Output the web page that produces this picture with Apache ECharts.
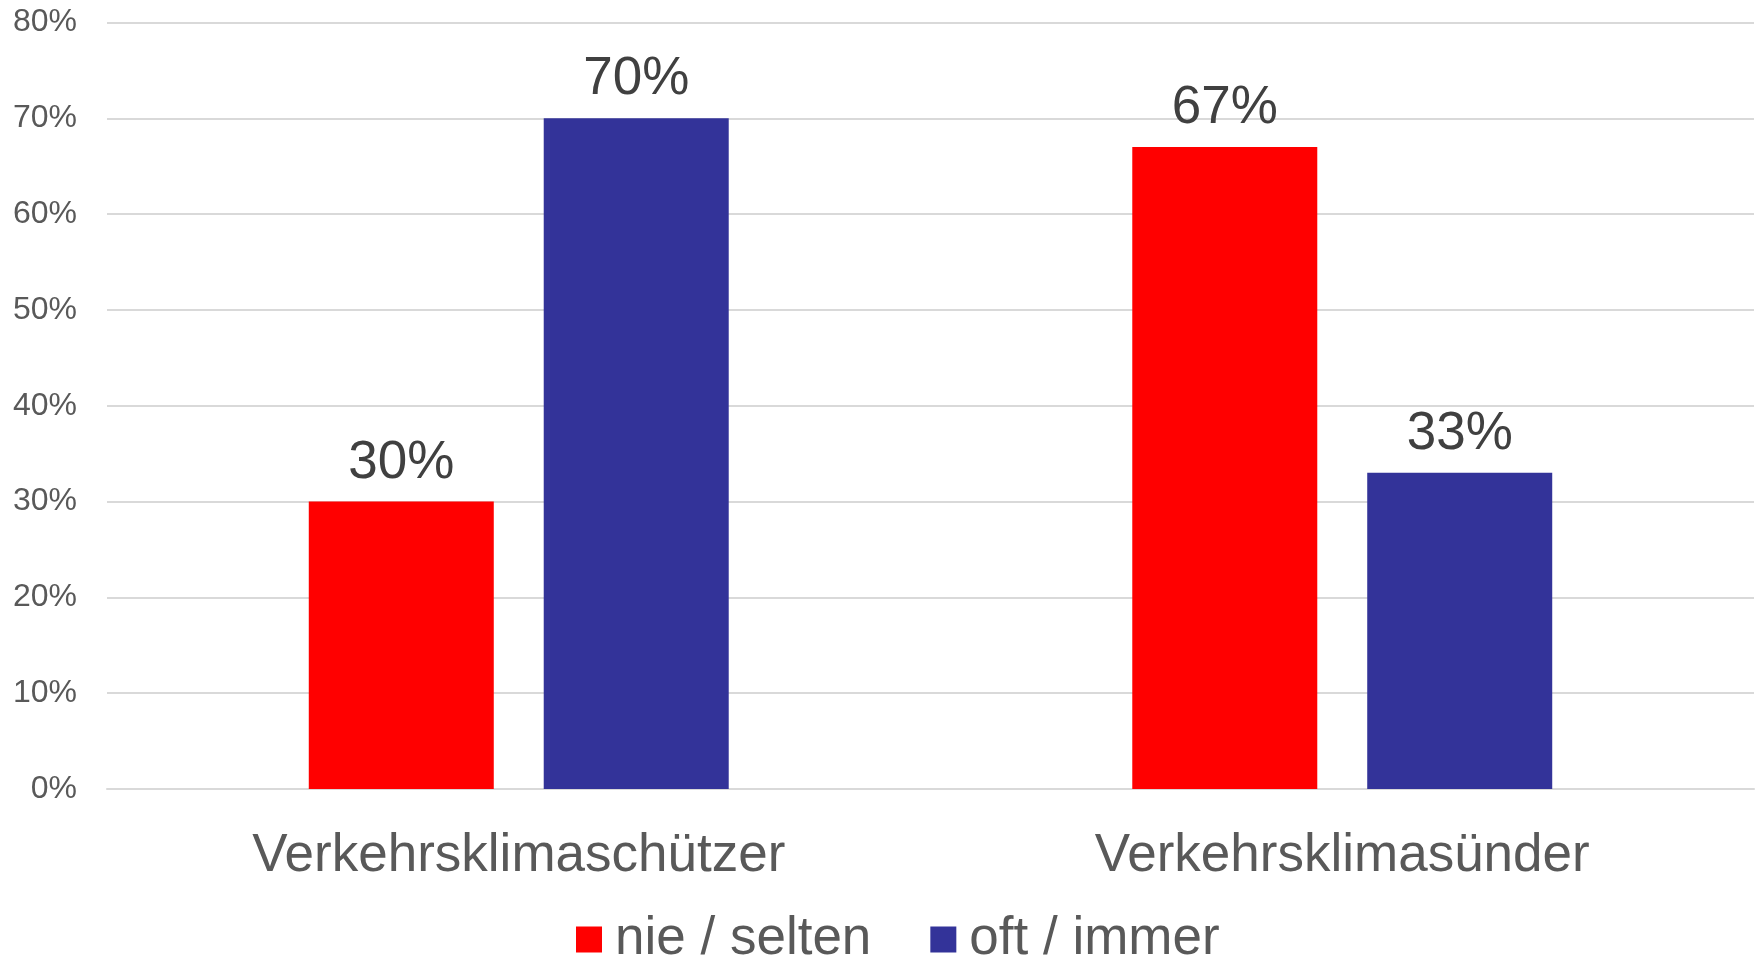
<!DOCTYPE html>
<html lang="de">
<head>
    <meta charset="UTF-8">
    <title>Verkehrsklima</title>
    <script src="https://cdn.jsdelivr.net/npm/echarts@6/dist/echarts.min.js"></script>
    <style>
        html, body { margin: 0; padding: 0; background: #fff; }
        #chart { width: 1760px; height: 956px; }
    </style>
</head>
<body>
<div id="chart"></div>
<script>
    // Daten
    var categories = ['Verkehrsklimaschützer', 'Verkehrsklimasünder'];
    var seriesNames = ['nie / selten', 'oft / immer'];
    var nieSelten = [30, 67];
    var oftImmer = [70, 33];
    var yTicks = [0, 10, 20, 30, 40, 50, 60, 70, 80];

    var font = 'Liberation Sans, Arial, sans-serif';
    var chart = echarts.init(document.getElementById('chart'));

    function barSeries(name, values, color) {
        return {
            name: name,
            type: 'bar',
            data: values,
            barWidth: 185,
            barGap: '27%',
            itemStyle: { color: color },
            label: {
                show: true,
                position: 'top',
                distance: 12,
                formatter: '{c}%',
                color: '#404040',
                fontFamily: font,
                fontSize: 53
            }
        };
    }

    var option = {
        animation: false,
        backgroundColor: '#ffffff',
        grid: { left: 107, right: 6, top: 22.5, bottom: 167, containLabel: false },
        legend: {
            data: seriesNames,
            left: 571,
            top: 908,
            icon: 'rect',
            itemWidth: 26,
            itemHeight: 26,
            itemGap: 59,
            textStyle: {
                color: '#595959',
                fontFamily: font,
                fontSize: 53,
                padding: [0, 0, 0, 8]
            }
        },
        xAxis: {
            type: 'category',
            data: categories,
            axisLine: { lineStyle: { color: '#d9d9d9', width: 2 } },
            axisTick: { show: false },
            axisLabel: {
                color: '#595959',
                fontFamily: font,
                fontSize: 53,
                margin: 41
            }
        },
        yAxis: {
            type: 'value',
            min: yTicks[0],
            max: yTicks[yTicks.length - 1],
            interval: yTicks[1] - yTicks[0],
            axisLine: { show: false },
            axisTick: { show: false },
            splitLine: { lineStyle: { color: '#d9d9d9', width: 2 } },
            axisLabel: {
                formatter: '{value}%',
                color: '#595959',
                fontFamily: font,
                fontSize: 32,
                margin: 30
            }
        },
        series: [
            barSeries(seriesNames[0], nieSelten, '#ff0000'),
            barSeries(seriesNames[1], oftImmer, '#333399')
        ]
    };
    chart.setOption(option);
</script>
</body>
</html>
